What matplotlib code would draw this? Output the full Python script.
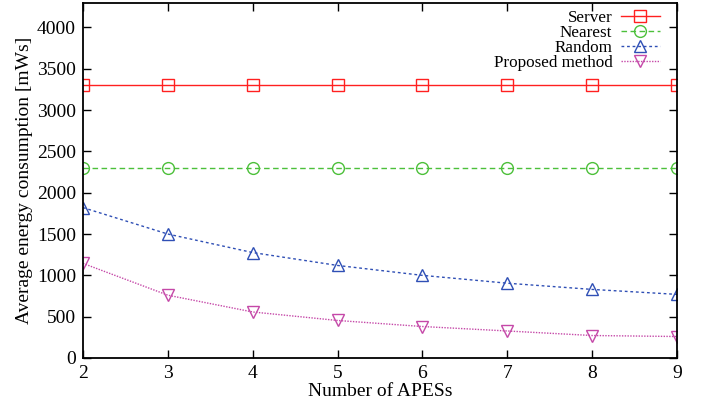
import matplotlib
matplotlib.use("Agg")
import matplotlib.pyplot as plt

apes = [2, 3, 4, 5, 6, 7, 8, 9]
server = [3300, 3300, 3300, 3300, 3300, 3300, 3300, 3300]
nearest = [2300, 2300, 2300, 2300, 2300, 2300, 2300, 2300]
random_sel = [1820, 1500, 1276, 1120, 1000, 905, 830, 770]
proposed = [1145, 760, 557, 454, 381, 327, 272, 260]

plt.rcParams['font.family'] = ['Liberation Serif', 'DejaVu Serif']

fig = plt.figure(figsize=(7.07, 4.07), dpi=100)
ax = fig.add_axes([0.1174, 0.1204, 0.8402, 0.873])

ms = 8.5
ax.plot(apes, server, color='#ff2020', ls='-', lw=1.0, marker='s', ms=ms,
        mfc='none', mew=1.0, label='Server')
ax.plot(apes, nearest, color='#4cc03a', ls=(0, (4, 2.5)), lw=1.0, marker='o', ms=ms,
        mfc='none', mew=1.0, label='Nearest')
ax.plot(apes, random_sel, color='#2f4fb5', ls=(0, (2, 2)), lw=1.0, marker='^', ms=ms,
        mfc='none', mew=1.0, label='Random')
ax.plot(apes, proposed, color='#c548a8', ls=(0, (1, 1)), lw=1.0, marker='v', ms=ms,
        mfc='none', mew=1.0, label='Proposed method')

ax.set_xlim(2, 9)
ax.set_ylim(0, 4300)
ax.set_xticks(apes)
ax.set_yticks([0, 500, 1000, 1500, 2000, 2500, 3000, 3500, 4000])
ax.tick_params(direction='in', length=6, width=1, top=True, right=True,
               labelsize=14, pad=5)
for s in ax.spines.values():
    s.set_linewidth(1.3)

ax.set_xlabel('Number of APESs', fontsize=14, labelpad=1)
ax.set_ylabel('Average energy consumption [mWs]', fontsize=14, labelpad=3)

leg = ax.legend(loc='upper right', markerfirst=False, frameon=False, fontsize=12.3,
                handlelength=2.3, labelspacing=-0.05, handletextpad=0.5,
                borderaxespad=0.0, bbox_to_anchor=(0.983, 0.999))
for t in leg.get_texts():
    t.set_ha('right')

fig.savefig('out.png', dpi=100)
